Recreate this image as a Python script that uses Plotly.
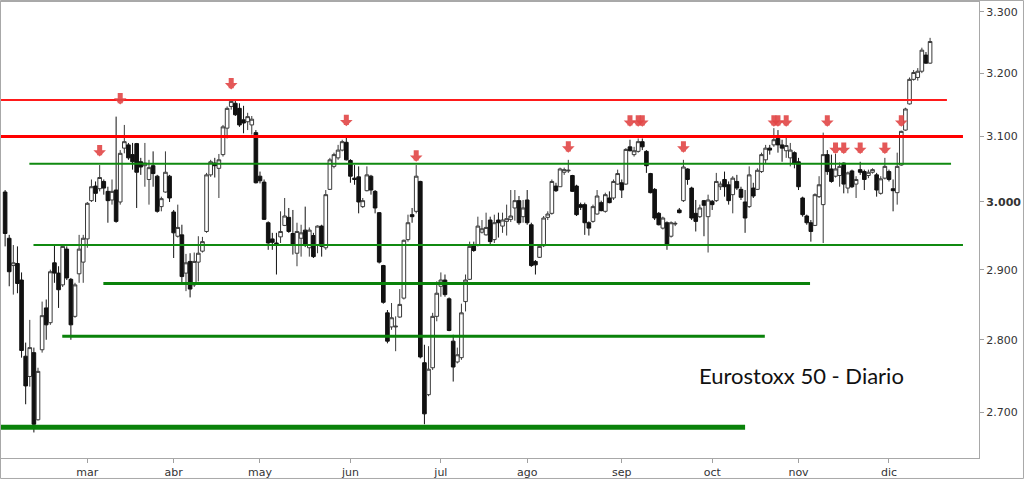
import numpy as np
import pandas as pd
import plotly.graph_objects as go

# ---------------- data ----------------
dates = pd.bdate_range("2016-02-02", "2016-12-15")
dates = dates[~dates.isin(pd.to_datetime(["2016-03-25", "2016-03-28"]))]
x = dates.strftime("%Y-%m-%d").tolist()

open_ = [3015,2946,2906,2909,2885,2777,2749,2782,2690,2786,2845,2824,2910,2895,2878,2930,2886,2833,2894,2911,
         2945,3002,3024,3020,3031,3016,3003,3018,3000,3082,3087,3072,3089,3061,3055,3034,3055,3039,2993,3015,
         3039,2985,2949,2951,2895,2912,2878,2911,2927,2956,3041,3059,3051,3072,3113,3147,3152,3144,3126,3123,
         3118,3106,3039,3030,2969,2945,2939,2948,2965,2977,2953,2924,2946,2958,2932,2950,2936,2964,2932,3019,
         3054,3067,3079,3091,3063,3036,3038,2993,3017,3039,3016,2984,2906,2838,2818,2818,2832,2859,2944,2981,
         2986,3031,2768,2724,2761,2833,2876,2885,2858,2798,2769,2775,2854,2886,2935,2936,2955,2951,2973,2944,
         2973,2964,2971,2974,2991,3002,2978,3003,2966,2912,2918,2935,2977,2983,3024,3023,3045,3047,3040,3024,
         2996,2996,2969,2971,2982,2999,2986,3006,3006,3027,3029,3027,3084,3072,3077,3092,3077,3043,3019,2983,
         2961,2969,2949,2967,2988,3002,3050,3021,2983,2978,3002,2978,3001,3002,3023,3034,3026,3011,3031,3019,
         3000,2993,3021,3019,3046,3064,3082,3087,3097,3087,3078,3067,3075,3061,3006,2979,2969,2965,3008,2996,
         3072,3050,3039,3040,3059,3021,3047,3027,3049,3046,3040,3045,3041,3013,3036,3046,3020,3014,3056,3110,
         3151,3190,3193,3203,3229,3216]
high = [3018,2951,2936,2934,2896,2796,2828,2789,2761,2854,2857,2900,2936,2905,2936,2934,2888,2881,2951,2951,
        3000,3034,3031,3056,3034,3023,3034,3131,3079,3118,3090,3090,3090,3067,3090,3064,3077,3041,3008,3077,
        3041,2988,2996,2966,2923,2924,2925,2949,2948,3044,3064,3067,3073,3118,3147,3157,3157,3152,3148,3137,
        3132,3110,3046,3034,2971,2954,2954,2986,3006,2991,2988,2969,2966,2993,2962,2954,2965,2966,3018,3067,
        3075,3087,3095,3100,3065,3056,3054,3006,3054,3041,3018,2985,2907,2842,2852,2833,2872,2944,2981,2991,
        3056,3032,2793,2791,2838,2883,2896,2893,2860,2807,2789,2851,2893,2941,2941,2978,2973,2984,2978,2981,
        2984,2984,2996,3018,3018,3009,3003,3018,2969,2914,2936,2979,2986,3034,3029,3052,3052,3064,3041,3026,
        2999,2999,2971,2996,3018,3002,3014,3016,3034,3049,3034,3082,3095,3084,3097,3097,3079,3044,3021,2985,
        2978,2971,2971,2971,2991,3064,3051,3023,3003,2996,3003,3011,3003,3044,3031,3046,3031,3039,3041,3023,
        3018,3054,3029,3051,3075,3087,3087,3113,3110,3095,3100,3090,3077,3067,3008,2981,2973,3013,3039,3106,
        3079,3072,3073,3060,3060,3046,3049,3039,3061,3049,3049,3051,3044,3039,3067,3049,3034,3075,3109,3145,
        3193,3205,3208,3241,3234,3257]
low = [2934,2876,2864,2866,2775,2711,2735,2673,2689,2782,2800,2821,2881,2845,2875,2885,2800,2831,2881,2881,
       2932,3000,3000,3016,3011,2969,2996,2969,2996,3074,3064,3049,2991,3041,3023,2996,3023,2984,2986,3014,
       3000,2917,2947,2878,2869,2860,2875,2883,2925,2954,3038,3037,3006,3069,3097,3142,3132,3115,3105,3110,
       3103,3028,3028,2973,2929,2929,2893,2939,2964,2954,2922,2905,2919,2933,2919,2917,2924,2919,2929,3018,
       3051,3064,3077,3063,3029,3026,2983,2991,3016,3011,2983,2909,2851,2795,2814,2784,2831,2857,2941,2969,
       2983,2774,2684,2722,2758,2826,2861,2861,2812,2742,2767,2772,2840,2885,2926,2934,2953,2950,2936,2939,
       2947,2954,2950,2970,2972,2966,2969,2966,2904,2893,2917,2933,2973,2981,3015,3023,3041,3044,3015,2979,
       2988,2951,2950,2969,2981,2986,2984,2998,3003,3026,3006,3026,3077,3069,3075,3079,3044,3013,2973,2965,
       2959,2929,2947,2964,2983,3000,3026,2973,2956,2976,2949,2925,2988,3000,3018,3008,2996,2983,3018,3003,
       2954,2991,3006,3018,3044,3059,3072,3084,3075,3061,3067,3054,3051,3018,2978,2966,2941,2964,3006,2939,
       3041,3029,3037,3023,3013,3013,3021,3006,3041,3018,3036,3043,3008,3011,3034,3031,2986,2996,3055,3109,
       3150,3188,3188,3200,3215,3215]
close = [2953,2897,2910,2880,2785,2736,2789,2684,2756,2834,2821,2897,2895,2871,2934,2888,2821,2878,2930,2946,
         2998,3023,3013,3037,3021,3002,3016,2971,3074,3092,3067,3061,3045,3053,3059,3052,3043,2986,3005,3045,
         3006,2954,2962,2890,2910,2872,2912,2924,2941,3041,3061,3055,3064,3115,3144,3155,3134,3118,3121,3131,
         3127,3029,3032,2974,2939,2940,2938,2956,2979,2956,2936,2956,2954,2936,2958,2919,2964,2934,3011,3064,
         3072,3079,3092,3064,3039,3034,3000,3002,3041,3018,2991,2911,2853,2798,2831,2819,2850,2943,2969,2978,
         3039,2776,2698,2759,2833,2866,2885,2864,2813,2762,2779,2838,2885,2934,2928,2964,2960,2962,2941,2969,
         2969,2973,2975,2979,3002,2969,2991,2969,2906,2907,2934,2976,2982,3031,3017,3050,3049,3048,3016,2981,
         2992,2969,2961,2993,3009,2987,3011,2999,3031,3043,3018,3080,3078,3078,3092,3084,3055,3014,2976,2966,
         2976,2936,2969,2968,2984,3053,3034,2976,2971,2991,2995,3003,2996,3031,3027,3023,3002,3036,3021,3007,
         2976,3041,3009,3048,3072,3082,3079,3095,3087,3082,3086,3079,3058,3023,2981,2969,2956,3011,3026,3072,
         3046,3031,3050,3054,3027,3044,3023,3034,3045,3034,3045,3049,3018,3035,3054,3034,3017,3054,3108,3143,
         3190,3201,3203,3237,3216,3251]

# resistance / support levels
levels = [3157, 3100, 3058, 2936, 2880, 2805, 2680]
level_colors = ["#ff1a1a", "#ff0000", "#108a10", "#108a10", "#0a820a", "#0a820a", "#0a820a"]
level_widths = [2, 3, 2, 2, 3, 3, 5]
level_start = [-1.3, -1.3, 5.9, 6.9, 23.9, 13.9, -1.3]
level_end = [229.1, 233.0, 230.1, 233.0, 195.8, 184.8, 180.0]

# red arrows (candle index, tip value)
arrow_idx = [23, 28, 55, 83, 100, 137, 152, 154, 155, 165, 187, 188, 190, 200, 202, 204, 208, 214, 218]
arrow_tip = [3069, 3150, 3174, 3116, 3061, 3075, 3115, 3115, 3115, 3075, 3115, 3115, 3115, 3115,
             3073, 3073, 3073, 3073, 3115]

tick_vals = [2700, 2800, 2900, 3000, 3100, 3200, 3300]
tick_text = ["2.700", "2.800", "2.900", "<b>3.000</b>", "3.100", "3.200", "3.300"]
month_days = ["2016-03-01", "2016-04-01", "2016-05-02", "2016-06-01", "2016-07-01",
              "2016-08-01", "2016-09-01", "2016-10-03", "2016-11-01", "2016-12-01"]
month_labels = ["mar", "abr", "may", "jun", "jul", "ago", "sep", "oct", "nov", "dic"]

# ---------------- figure ----------------
fig = go.Figure()
fig.add_trace(go.Candlestick(
    x=x, open=open_, high=high, low=low, close=close,
    increasing=dict(fillcolor="white", line=dict(color="#3a3a3a", width=1)),
    decreasing=dict(fillcolor="#111111", line=dict(color="#111111", width=1)),
    whiskerwidth=0, showlegend=False, hoverinfo="skip",
))

for lv, c, w, s, e in zip(levels, level_colors, level_widths, level_start, level_end):
    fig.add_shape(type="line", xref="x", yref="y", x0=s, x1=e, y0=lv, y1=lv,
                  line=dict(color=c, width=w), layer="above")

for i, tip in zip(arrow_idx, arrow_tip):
    fig.add_annotation(x=x[i], y=np.log10(tip), xref="x", yref="y", text="",
                       showarrow=True, ax=0, ay=-13, arrowhead=1, arrowsize=0.42,
                       arrowwidth=5, arrowcolor="rgba(226,70,70,0.9)", standoff=0)

fig.add_annotation(xref="paper", yref="paper", x=0.7117, y=0.182, xanchor="left", yanchor="middle",
                   text="Eurostoxx 50 - Diario", showarrow=False,
                   font=dict(family="Lato", size=22, color="#111111"))

# outer image border
fig.add_shape(type="rect", xref="paper", yref="paper",
              x0=-0.0005, x1=1.0455, y0=-0.0449, y1=1.0033,
              line=dict(color="#a8a8a8", width=1), layer="above")

fig.update_layout(
    width=1024, height=479,
    margin=dict(l=1, r=45, t=2, b=21),
    paper_bgcolor="white", plot_bgcolor="white",
    boxgap=0.12, boxgroupgap=0.0,
    xaxis=dict(type="category", range=[-1.0, 236.9], rangeslider=dict(visible=False),
               tickvals=month_days, ticktext=month_labels, ticks="outside", ticklen=4,
               tickcolor="#a0a0a0", showgrid=False, showline=True, linecolor="#a8a8a8",
               mirror=True, tickfont=dict(family="DejaVu Sans", size=11, color="#333333")),
    yaxis=dict(type="log", range=[np.log10(2639), np.log10(3316)], side="right",
               tickvals=tick_vals, ticktext=tick_text, ticks="outside", ticklen=4,
               tickcolor="#a0a0a0", showgrid=False, showline=True, linecolor="#a8a8a8",
               mirror=True, zeroline=False,
               tickfont=dict(family="DejaVu Sans", size=11, color="#333333")),
)

fig.write_html("out.html")
